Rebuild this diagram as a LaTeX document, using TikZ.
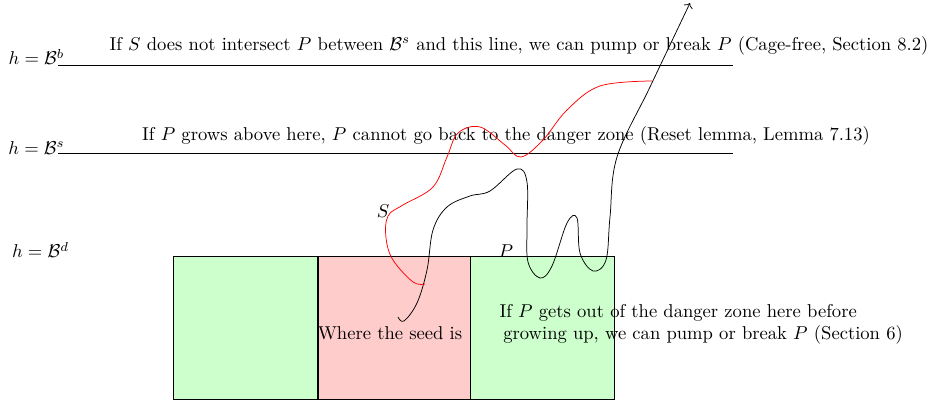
\documentclass[tikz,border=0pt]{standalone}
\usepackage{amsmath,amssymb}
\usepackage{xcolor}
\usepackage{tikz}
\usetikzlibrary{arrows.meta,positioning}

\begin{document}
\begin{tikzpicture}[
    x=0.945cm, y=0.945cm,
    zone/.style={draw, minimum height=2.70cm, inner sep=0pt},
    safe/.style={zone, fill=green!20, minimum width=2.72cm},
    seed/.style={zone, fill=red!20, minimum width=2.87cm},
    level/.style={draw},
    note/.style={align=center}
]
\useasboundingbox (0,0) rectangle (18.64,8.08);

% the three zones
\node[safe, anchor=south west] (zl) at (3.46,0.08) {};
\node[seed, right=0pt of zl] (zs) {};
\node[safe, right=0pt of zs] (zr) {};
\node (where) at (7.80,1.42) {Where the seed is};

% heights
\draw[level] (1.16,6.78) coordinate (bb) -- (14.66,6.78) coordinate (be);
\draw[level] (1.16,5.02) coordinate (sb) -- (14.66,5.02) coordinate (se);
\node (hb) at (0.73,6.94) {$h=\mathcal{B}^b$};
\node (hs) at (0.73,5.12) {$h=\mathcal{B}^s$};
\node (hd) at (0.81,3.08) {$h=\mathcal{B}^d$};

\node[note] (tb) at (10.38,7.16) {If $S$ does not intersect $P$ between $\mathcal{B}^s$ and this line, we can pump or break $P$ (Cage-free, Section 8.2)};
\node[note] (ts) at (10.12,5.36) {If $P$ grows above here, $P$ cannot go back to the danger zone (Reset lemma, Lemma 7.13)};
\node[note, align=left, anchor=west] (td) at (9.86,1.60) {If $P$ gets out of the danger zone here before\\ \hspace{2pt}growing up, we can pump or break $P$ (Section 6)};

% the path P and the cage S
\draw[->] plot[smooth, tension=0.6] coordinates {(7.96,1.74) (8.08,1.66) (8.34,2.02) (8.54,2.68) (8.66,3.48) (8.94,3.94) (9.40,4.16) (9.80,4.26) (10.34,4.70) (10.54,4.44) (10.54,3.54) (10.56,2.84) (10.80,2.52) (11.04,2.76) (11.34,3.62) (11.54,3.72) (11.60,3.02) (11.86,2.66) (12.12,2.88) (12.20,3.74) (12.34,4.94) (13.00,6.34) (13.80,8.02)};
\draw[red] plot[smooth, tension=0.6] coordinates {(13.04,6.46) (12.00,6.36) (11.34,5.88) (10.86,5.28) (10.42,4.94) (10.10,5.18) (9.60,5.54) (9.16,5.42) (8.94,4.94) (8.66,4.34) (8.06,3.98) (7.76,3.76) (7.72,3.32) (7.86,2.88) (8.26,2.44) (8.50,2.40)};
\node (s) at (7.66,3.86) {$S$};
\node (p) at (10.12,3.06) {$P$};
\end{tikzpicture}
\end{document}
